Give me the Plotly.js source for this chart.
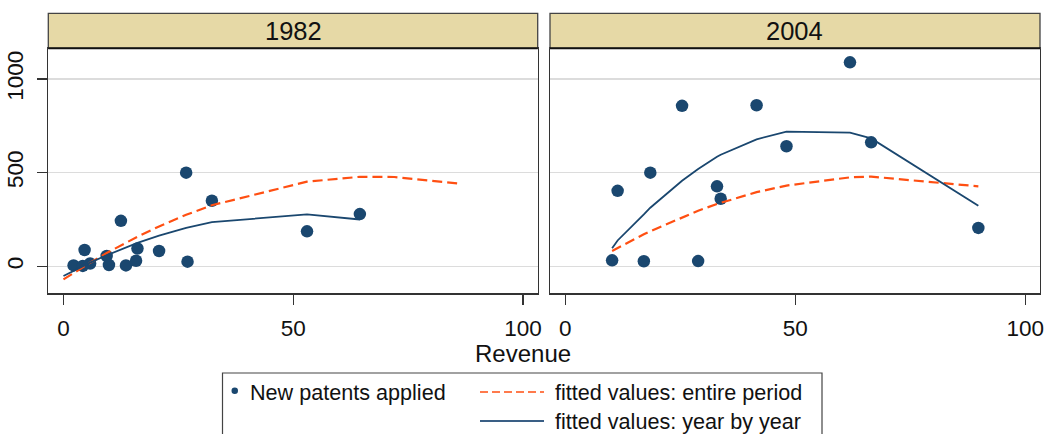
<!DOCTYPE html>
<html>
<head>
<meta charset="utf-8">
<script src="https://cdn.plot.ly/plotly-3.0.1.min.js"></script>
<style>
  html, body { margin: 0; padding: 0; background: #ffffff; }
  #chart { width: 1048px; height: 434px; }
</style>
</head>
<body>
<div id="chart"></div>
<script>
// ---- Data ----
const panels = ["1982", "2004"];

// 1982: revenue and new patents applied
const revenue1982 = [2.2, 4.2, 4.6, 5.8, 9.4, 9.9, 12.5, 13.6, 15.8, 16.1, 20.8, 26.7, 27.0, 32.3, 53.0, 64.5];
const patents1982 = [5, 2, 87, 15, 55, 7, 243, 5, 30, 95, 82, 500, 25, 350, 187, 279];

// 2004: revenue and new patents applied
const revenue2004 = [10.2, 11.4, 17.1, 18.5, 25.4, 28.9, 33.0, 33.8, 41.6, 48.1, 61.9, 66.5, 89.8];
const patents2004 = [32, 403, 27, 500, 857, 28, 427, 361, 860, 641, 1089, 662, 205];

// fitted values: entire period (same curve in both panels)
const fitAllX1982 = [0, 2.2, 4.2, 5.8, 9.4, 12.5, 13.6, 16.1, 20.8, 26.7, 32.3, 53.0, 64.5, 72, 86.2];
const fitAll1982  = [-70, -35, -3, 19, 71, 113, 127, 158, 213, 275, 326, 452, 478, 477, 442];
const fitAllX2004 = [10.2, 11.4, 17.1, 18.5, 25.4, 28.9, 33.0, 33.8, 41.6, 48.1, 61.9, 66.5, 89.8];
const fitAll2004  = [82, 98, 171, 187, 262, 297, 333, 339, 396, 431, 475, 479, 427];

// fitted values: year by year
const fitYearX1982 = [0, 2.2, 4.6, 5.8, 9.4, 12.5, 16.1, 20.8, 26.7, 32.3, 53.0, 64.5];
const fitYear1982  = [-52, -24, 5, 20, 59, 91, 125, 164, 205, 236, 277, 250];
const fitYearX2004 = [10.2, 11.4, 17.1, 18.5, 25.4, 28.9, 33.0, 33.8, 41.6, 48.1, 61.9, 66.5, 89.8];
const fitYear2004  = [96, 138, 277, 313, 457, 520, 585, 596, 678, 719, 714, 683, 323];

const xTicks = [0, 50, 100];
const yTicks = [0, 500, 1000];
const legendLabels = ["New patents applied", "fitted values: entire period", "fitted values: year by year"];
const xTitle = "Revenue";

// ---- Styles ----
const NAVY = "#1a476f";
const ORANGE = "#ff4f12";
const FONT = "Liberation Sans, Arial, Helvetica, sans-serif";
const W = 1048, H = 434;
const px = v => v / W;
const py = v => 1 - v / H;

function scatterTrace(x, y, ax) {
  return { type: "scatter", mode: "markers", x: x, y: y, xaxis: "x" + ax, yaxis: "y" + ax,
    marker: { color: NAVY, size: 12.5, line: { width: 0 } }, showlegend: false, hoverinfo: "skip" };
}
function lineTrace(x, y, ax, color, dash, width) {
  return { type: "scatter", mode: "lines", x: x, y: y, xaxis: "x" + ax, yaxis: "y" + ax,
    line: { color: color, width: width, dash: dash, shape: "linear" }, showlegend: false, hoverinfo: "skip" };
}

const data = [
  scatterTrace(revenue1982, patents1982, ""),
  lineTrace(fitAllX1982, fitAll1982, "", ORANGE, "10px,5px", 2.2),
  lineTrace(fitYearX1982, fitYear1982, "", NAVY, "solid", 1.8),
  scatterTrace(revenue2004, patents2004, "2"),
  lineTrace(fitAllX2004, fitAll2004, "2", ORANGE, "10px,5px", 2.2),
  lineTrace(fitYearX2004, fitYear2004, "2", NAVY, "solid", 1.8)
];

const xRange = [-3.3, 103.2];
const yRange = [-144, 1164];
const plotTop = 48.3, plotBottom = 293.3, headTop = 13.3;
const leftX0 = 48.3, leftX1 = 537.7, rightX0 = 550, rightX1 = 1040;

const xBase = {
  range: xRange, tickvals: xTicks, ticktext: xTicks.map(String), ticks: "outside", ticklen: 10,
  tickwidth: 1.3, tickcolor: "#333", showline: true, linecolor: "#333", linewidth: 1.4, mirror: true,
  showgrid: false, zeroline: false, fixedrange: true,
  tickfont: { family: FONT, size: 22.5, color: "#111" }, ticklabelstandoff: 4
};
const yBase = {
  range: yRange, tickvals: yTicks, ticktext: yTicks.map(String), showline: true, linecolor: "#333",
  linewidth: 1.4, mirror: true, showgrid: true, gridcolor: "#dcdcdc", gridwidth: 1.6, zeroline: false,
  fixedrange: true, domain: [py(plotBottom), py(plotTop)]
};

const layout = {
  width: W, height: H,
  margin: { l: 0, r: 0, t: 0, b: 0, pad: 0 },
  paper_bgcolor: "#ffffff", plot_bgcolor: "#ffffff",
  showlegend: false,
  font: { family: FONT, color: "#111" },
  xaxis: Object.assign({}, xBase, { domain: [px(leftX0), px(leftX1)], anchor: "y" }),
  yaxis: Object.assign({}, yBase, { anchor: "x", ticks: "outside", ticklen: 10, tickwidth: 1.3, tickcolor: "#333",
    tickangle: -90, tickfont: { family: FONT, size: 22.5, color: "#111" }, ticklabelstandoff: 5 }),
  xaxis2: Object.assign({}, xBase, { domain: [px(rightX0), px(rightX1)], anchor: "y2" }),
  yaxis2: Object.assign({}, yBase, { anchor: "x2", ticks: "", showticklabels: false }),
  shapes: [],
  annotations: []
};

// Panel headers
[[leftX0, leftX1], [rightX0, rightX1]].forEach((b, i) => {
  layout.shapes.push({ type: "rect", xref: "paper", yref: "paper", x0: px(b[0]), x1: px(b[1]),
    y0: py(plotTop), y1: py(headTop), fillcolor: "#e6d9a6", line: { color: "#444", width: 1.3 }, layer: "above" });
  layout.shapes.push({ type: "line", xref: "paper", yref: "paper", x0: px(b[0]), x1: px(b[1]),
    y0: py(plotTop), y1: py(plotTop), line: { color: "#111", width: 2 }, layer: "above" });
  layout.annotations.push({ xref: "paper", yref: "paper", x: px((b[0] + b[1]) / 2), y: py(30.5),
    xanchor: "center", yanchor: "middle", showarrow: false, text: panels[i],
    font: { family: FONT, size: 25.5, color: "#111" } });
});

// x-axis title
layout.annotations.push({ xref: "paper", yref: "paper", x: px(522.5), y: py(353), xanchor: "center",
  yanchor: "middle", showarrow: false, text: xTitle, font: { family: FONT, size: 24, color: "#111" } });

// Legend (box continues below the picture)
layout.shapes.push({ type: "rect", xref: "paper", yref: "paper", x0: px(222.5), x1: px(822), y0: py(460), y1: py(373),
  fillcolor: "rgba(0,0,0,0)", line: { color: "#444", width: 1.2 } });
layout.shapes.push({ type: "circle", xref: "paper", yref: "paper", x0: px(231.5), x1: px(238), y0: py(394), y1: py(387.5),
  fillcolor: NAVY, line: { width: 0 } });
layout.shapes.push({ type: "line", xref: "paper", yref: "paper", x0: px(480), x1: px(544), y0: py(392), y1: py(392),
  line: { color: ORANGE, width: 1.6, dash: "8px,4px" } });
layout.shapes.push({ type: "line", xref: "paper", yref: "paper", x0: px(480), x1: px(544), y0: py(421), y1: py(421),
  line: { color: "#3a5f85", width: 1.8 } });
[[248, 392, 0], [553, 392, 1], [553, 421, 2]].forEach(p => {
  layout.annotations.push({ xref: "paper", yref: "paper", x: px(p[0]), y: py(p[1]), xanchor: "left", yanchor: "middle",
    showarrow: false, text: legendLabels[p[2]], font: { family: FONT, size: 21.6, color: "#111" } });
});

Plotly.newPlot("chart", data, layout, { staticPlot: true, displayModeBar: false });
</script>
</body>
</html>
